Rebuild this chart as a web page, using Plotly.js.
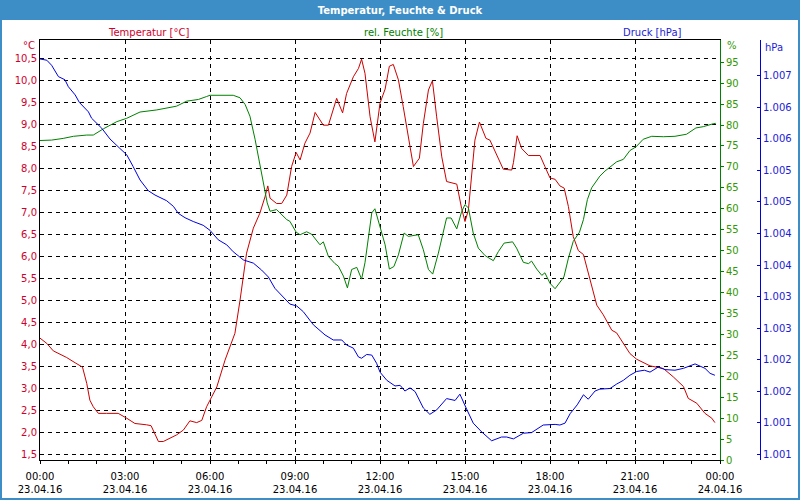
<!DOCTYPE html>
<html>
<head>
<meta charset="utf-8">
<script src="https://cdn.plot.ly/plotly-3.0.1.min.js"></script>
<style>
html,body{margin:0;padding:0;background:#fff;}
#chart{width:800px;height:500px;}
</style>
</head>
<body>
<div id="chart"></div>
<script>
// ---- data (hours since 23.04.16 00:00) ----
const tempHours = [0,0.24,0.47,0.94,1.24,1.5,1.65,1.76,1.88,2.06,2.35,2.76,3.06,3.35,3.76,3.92,4.18,4.35,4.82,5.06,5.29,5.53,5.71,5.88,6.0,6.24,6.53,6.88,7.06,7.18,7.29,7.53,7.76,7.94,8.04,8.12,8.35,8.53,8.71,8.88,9.04,9.18,9.35,9.53,9.71,10.0,10.18,10.47,10.68,10.82,11.06,11.24,11.35,11.47,11.65,11.82,11.94,12.0,12.18,12.33,12.47,12.65,12.82,13.0,13.18,13.39,13.53,13.71,13.85,14.0,14.18,14.35,14.71,14.88,15.0,15.12,15.24,15.35,15.51,15.74,15.88,16.12,16.35,16.65,16.71,16.84,17.0,17.24,17.65,17.82,18.0,18.18,18.35,18.5,18.65,18.82,19.0,19.18,19.41,19.65,19.88,20.18,20.35,20.59,20.82,21.06,21.53,22.0,22.35,22.71,22.88,23.18,23.47,23.71,23.82];
const tempValues = [4.14,4.02,3.85,3.70,3.58,3.48,3.11,2.73,2.58,2.43,2.43,2.43,2.32,2.20,2.17,2.15,1.79,1.79,1.94,2.05,2.26,2.22,2.27,2.58,2.73,3.03,3.64,4.25,5.0,5.61,6.07,6.64,6.98,7.35,7.60,7.32,7.2,7.2,7.39,8.04,8.36,8.19,8.57,8.80,9.27,8.98,8.98,9.59,9.26,9.70,10.08,10.27,10.48,10.16,9.17,8.60,9.17,9.48,9.80,10.32,10.36,10.01,9.40,8.72,8.04,8.23,9.02,9.78,9.99,9.17,8.26,7.70,7.64,7.09,6.79,7.05,7.89,8.64,9.05,8.68,8.64,8.30,7.98,7.96,8.13,8.74,8.45,8.29,8.29,8.04,7.78,7.75,7.60,7.55,7.13,6.45,6.13,6.04,5.46,4.89,4.67,4.32,4.26,4.02,3.79,3.66,3.51,3.45,3.26,3.04,2.77,2.66,2.43,2.32,2.22];

const humHours = [0,0.41,0.82,1.18,1.65,1.88,2.24,2.71,3.06,3.53,4.12,4.47,4.82,5.18,5.59,5.88,6.0,6.82,7.06,7.24,7.41,7.59,7.76,7.88,8.02,8.12,8.35,8.71,8.82,9.04,9.18,9.41,9.59,9.88,10.0,10.18,10.41,10.53,10.71,10.85,11.0,11.18,11.35,11.47,11.59,11.71,11.82,12.0,12.18,12.33,12.49,12.65,12.85,13.0,13.35,13.53,13.71,13.86,14.06,14.35,14.51,14.71,14.88,15.0,15.12,15.29,15.47,15.71,16.0,16.18,16.38,16.68,16.82,17.06,17.24,17.35,17.53,17.71,17.82,18.0,18.18,18.49,18.65,18.82,19.04,19.18,19.32,19.47,19.76,19.94,20.24,20.35,20.59,20.82,21.04,21.29,21.59,22.0,22.41,22.82,23.15,23.41,23.76,23.85];
const humValues = [76.3,76.4,76.8,77.3,77.6,77.6,79.1,80.8,81.6,83.1,83.6,84.1,84.5,85.7,86.1,86.8,87.1,87.1,86.5,84.9,82.1,76.6,70.2,66.2,61.4,59.4,59.8,57.4,57.0,54.4,53.8,54.5,53.9,51.4,52.1,48.6,46.9,46.3,43.9,41.1,45.5,46.0,43.2,47.1,53.4,59.0,60.0,55.4,51.4,45.6,46.2,49.0,54.2,53.4,53.8,50.2,45.5,44.4,49.4,57.8,57.8,55.2,59.3,61.0,60.2,54.2,50.6,48.8,47.6,49.8,51.8,52.1,50.6,47.2,46.9,47.5,45.6,44.1,44.7,42.2,40.9,43.7,48.2,52.2,54.4,57.4,62.2,65.0,67.8,69.0,70.7,71.2,71.8,73.9,74.8,76.6,77.3,77.2,77.3,77.8,79.3,79.6,80.3,80.4];

const presHours = [0,0.24,0.41,0.65,0.88,1.0,1.24,1.39,1.71,1.82,2.18,2.47,2.82,3.06,3.29,3.53,3.82,4.06,4.47,4.71,4.88,5.12,5.41,5.76,6.0,6.29,6.59,6.82,7.18,7.53,7.82,8.06,8.29,8.53,8.82,9.06,9.29,9.65,10.06,10.35,10.65,10.82,11.06,11.24,11.35,11.53,11.71,11.88,12.0,12.24,12.53,12.71,12.88,13.06,13.24,13.53,13.76,14.0,14.35,14.65,14.82,15.04,15.29,15.59,15.94,16.29,16.47,16.71,17.06,17.35,17.76,18.18,18.35,18.53,18.71,18.96,19.18,19.35,19.59,19.76,20.12,20.35,20.59,20.82,21.06,21.33,21.53,21.82,22.06,22.41,22.71,23.12,23.47,23.65,23.82];
const presValues = [1007.27,1007.25,1007.17,1006.99,1006.94,1006.83,1006.70,1006.58,1006.43,1006.33,1006.17,1006.00,1005.85,1005.75,1005.56,1005.35,1005.18,1005.11,1005.02,1004.93,1004.82,1004.75,1004.69,1004.63,1004.55,1004.40,1004.32,1004.21,1004.08,1004.03,1003.92,1003.81,1003.63,1003.52,1003.38,1003.35,1003.26,1003.05,1002.89,1002.81,1002.81,1002.73,1002.68,1002.54,1002.52,1002.58,1002.57,1002.44,1002.30,1002.17,1002.08,1002.09,1002.00,1002.05,1001.99,1001.73,1001.63,1001.70,1001.88,1001.85,1001.95,1001.73,1001.49,1001.35,1001.21,1001.27,1001.27,1001.24,1001.33,1001.34,1001.46,1001.47,1001.46,1001.49,1001.64,1001.78,1001.94,1001.87,1002.00,1002.03,1002.04,1002.11,1002.17,1002.25,1002.31,1002.33,1002.30,1002.38,1002.34,1002.33,1002.36,1002.43,1002.36,1002.28,1002.25];

// ---- tick labels ----
const xTickVals = [0,3,6,9,12,15,18,21,24];
const xTickText = ['00:00<br>23.04.16','03:00<br>23.04.16','06:00<br>23.04.16','09:00<br>23.04.16','12:00<br>23.04.16','15:00<br>23.04.16','18:00<br>23.04.16','21:00<br>23.04.16','00:00<br>24.04.16'];
const humTickVals = [0,5,10,15,20,25,30,35,40,45,50,55,60,65,70,75,80,85,90,95];
const presTickVals = [1001,1001.5,1002,1002.5,1003,1003.5,1004,1004.5,1005,1005.5,1006,1006.5,1007];
const presTickText = ['1.001','1.001','1.002','1.002','1.003','1.003','1.004','1.004','1.005','1.005','1.006','1.006','1.007'];

// ---- styling ----
const FONT = '"DejaVu Sans", Verdana, sans-serif';
const RED_LINE = '#cc0000', RED_TXT = '#d0002c';
const GREEN_LINE = '#008000', GREEN_TXT = '#339900';
const BLUE_LINE = '#0000dd', BLUE_TXT = '#1c1cd8';
const FRAME = '#3d8ec6';

// pixel helpers (plot area: x 40..780 paper width 740, y 40..460)
const px = x => (x - 40) / 740;
const py = y => (460 - y) / 420;

const traces = [
  {x: tempHours, y: tempValues, type: 'scatter', mode: 'lines', yaxis: 'y', line: {color: RED_LINE, width: 1}},
  {x: humHours, y: humValues, type: 'scatter', mode: 'lines', yaxis: 'y2', line: {color: GREEN_LINE, width: 1}},
  {x: presHours, y: presValues, type: 'scatter', mode: 'lines', yaxis: 'y3', line: {color: BLUE_LINE, width: 1}}
];

const layout = {
  width: 800, height: 500,
  margin: {l: 40, r: 20, t: 40, b: 40},
  paper_bgcolor: '#ffffff', plot_bgcolor: '#ffffff',
  separators: ',.',
  showlegend: false,
  font: {family: FONT, size: 10, color: '#000'},
  title: {
    text: 'Temperatur, Feuchte & Druck',
    font: {family: FONT, size: 10, color: '#ffffff', weight: 'bold'},
    x: 0.5, xref: 'container', xanchor: 'center',
    y: 1 - 10 / 500, yref: 'container', yanchor: 'middle'
  },
  xaxis: {
    domain: [0, 680 / 740], range: [0, 24],
    tickmode: 'array', tickvals: xTickVals, ticktext: xTickText,
    ticks: 'outside', ticklen: 3, tickcolor: '#000', ticklabelstandoff: 4,
    minor: {tick0: 0, dtick: 1, ticks: 'outside', ticklen: 3, tickcolor: '#000', showgrid: false},
    showgrid: true, gridcolor: '#000', gridwidth: 1, griddash: '4px,4px',
    showline: true, linecolor: '#000', linewidth: 1, mirror: true,
    zeroline: false,
    tickfont: {family: FONT, size: 10, color: '#000'}
  },
  yaxis: {
    range: [1.37, 10.916], tick0: 1.5, dtick: 0.5, tickformat: '.1f',
    ticks: '', showgrid: true, gridcolor: '#000', gridwidth: 1, griddash: '4px,4px',
    showline: true, linecolor: '#000', linewidth: 1, zeroline: false,
    tickfont: {family: FONT, size: 10, color: RED_TXT}
  },
  yaxis2: {
    overlaying: 'y', side: 'right', anchor: 'x',
    range: [0, 100.3], tickmode: 'array', tickvals: humTickVals,
    ticks: 'outside', ticklen: 3, tickcolor: GREEN_LINE,
    showgrid: false, zeroline: false,
    showline: true, linecolor: GREEN_LINE, linewidth: 1,
    tickfont: {family: FONT, size: 10, color: GREEN_TXT}
  },
  yaxis3: {
    overlaying: 'y', side: 'right', anchor: 'free', position: px(760),
    range: [1000.905, 1007.571], tickmode: 'array', tickvals: presTickVals, ticktext: presTickText,
    ticks: 'inside', ticklen: 3, tickcolor: BLUE_LINE,
    showgrid: false, zeroline: false,
    showline: true, linecolor: BLUE_LINE, linewidth: 1,
    tickfont: {family: FONT, size: 10, color: BLUE_TXT}
  },
  shapes: [
    {type: 'rect', xref: 'paper', yref: 'paper', x0: px(0), x1: px(800), y0: py(20), y1: py(0),
     fillcolor: FRAME, line: {width: 0}, layer: 'below'},
    {type: 'rect', xref: 'paper', yref: 'paper', x0: px(1), x1: px(799), y0: py(499), y1: py(1),
     fillcolor: 'rgba(0,0,0,0)', line: {color: FRAME, width: 2}, layer: 'below'}
  ],
  annotations: [
    {text: '°C', xref: 'paper', yref: 'paper', x: px(37), y: py(46), xanchor: 'right', yanchor: 'middle', showarrow: false, font: {family: FONT, size: 10, color: RED_TXT}},
    {text: '%', xref: 'paper', yref: 'paper', x: px(725), y: py(46), xanchor: 'left', yanchor: 'middle', showarrow: false, font: {family: FONT, size: 10, color: GREEN_TXT}},
    {text: 'hPa', xref: 'paper', yref: 'paper', x: px(763), y: py(47), xanchor: 'left', yanchor: 'middle', showarrow: false, font: {family: FONT, size: 10, color: BLUE_TXT}},
    {text: 'Temperatur [°C]', xref: 'paper', yref: 'paper', x: px(148), y: py(32), xanchor: 'center', yanchor: 'middle', showarrow: false, font: {family: FONT, size: 10, color: RED_TXT}},
    {text: 'rel. Feuchte [%]', xref: 'paper', yref: 'paper', x: px(403), y: py(32), xanchor: 'center', yanchor: 'middle', showarrow: false, font: {family: FONT, size: 10, color: GREEN_LINE}},
    {text: 'Druck [hPa]', xref: 'paper', yref: 'paper', x: px(652), y: py(32), xanchor: 'center', yanchor: 'middle', showarrow: false, font: {family: FONT, size: 10, color: BLUE_TXT}}
  ]
};

Plotly.newPlot('chart', traces, layout, {staticPlot: true, displayModeBar: false});
</script>
</body>
</html>
